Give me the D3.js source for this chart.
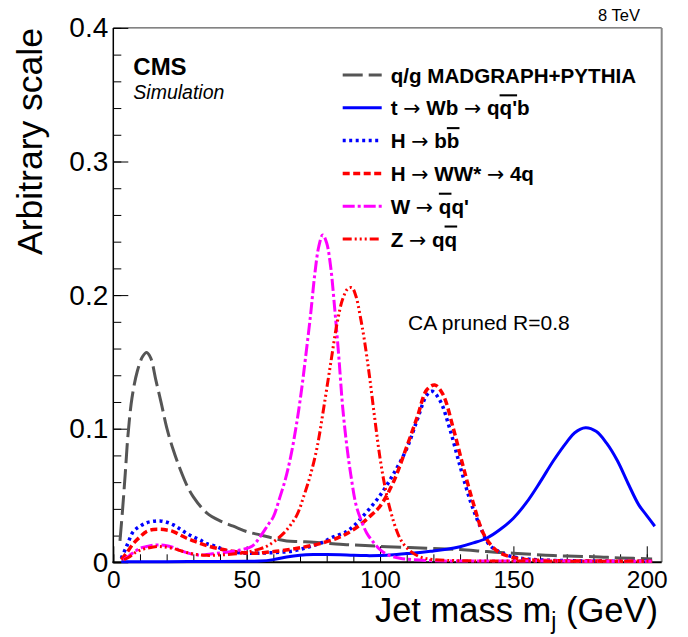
<!DOCTYPE html>
<meta charset="utf-8">
<style>
  body { margin: 0; background: #fff; }
  svg text { font-family: "Liberation Sans", Arial, sans-serif; fill: #000; }
  svg text .arrow { font-family: "DejaVu Sans", sans-serif; font-weight: normal; }
  .ov { text-decoration: overline; }
</style>
<svg width="688" height="637"></svg>
<script src="https://d3js.org/d3.v7.min.js"></script>
<script>
// jet mass (GeV) and normalised distribution
var qgX = [2.5, 3.5, 4.5, 5.5, 7, 9, 11, 12.5, 14, 16, 18, 20, 22.5, 25, 27.5, 30, 35, 40, 45, 50, 55, 60, 65, 70, 77.5, 85, 92.5, 102.5, 117.5, 130, 140, 150, 165, 180, 190, 202];
var qgY = [0.016, 0.04, 0.067, 0.095, 0.123, 0.143, 0.154, 0.157, 0.153, 0.136, 0.119, 0.101, 0.084, 0.070, 0.058, 0.049, 0.037, 0.031, 0.027, 0.023, 0.0205, 0.018, 0.016, 0.0155, 0.0147, 0.0135, 0.0127, 0.0117, 0.0105, 0.0095, 0.008, 0.0068, 0.005, 0.0042, 0.0033, 0.0025];

var topX = [3, 20, 40, 50, 55, 60, 65, 70, 75, 80, 85, 90, 95, 100, 105, 110, 115, 120, 125, 130, 135, 140, 145, 150, 155, 160, 165, 170, 173, 177, 181, 185, 189, 193, 197, 200, 203];
var topY = [0.0005, 0.0005, 0.0006, 0.0007, 0.0009, 0.002, 0.004, 0.0053, 0.0058, 0.0058, 0.0056, 0.0052, 0.005, 0.0051, 0.0056, 0.0065, 0.0073, 0.0085, 0.0098, 0.0117, 0.0145, 0.018, 0.0245, 0.033, 0.045, 0.060, 0.076, 0.090, 0.097, 0.1007, 0.098, 0.089, 0.076, 0.059, 0.043, 0.035, 0.027];

var hbbX = [3, 5, 7.5, 10, 12.5, 15, 17.5, 20, 22.5, 25, 27.5, 30, 32.5, 35, 38.8, 42.5, 47.5, 52.5, 57.5, 62.5, 67.5, 72.5, 77.5, 82.5, 87.5, 90, 92.5, 96, 100, 105, 110, 114, 117.5, 119.5, 122.5, 126, 130, 134, 137.5, 141, 145, 150, 155, 160, 170, 180, 190, 202];
var hbbY = [0.003, 0.012, 0.023, 0.027, 0.0296, 0.0307, 0.031, 0.030, 0.028, 0.025, 0.0217, 0.019, 0.0167, 0.014, 0.0117, 0.0085, 0.0072, 0.0067, 0.007, 0.0075, 0.0085, 0.011, 0.0142, 0.019, 0.023, 0.027, 0.032, 0.040, 0.050, 0.066, 0.085, 0.107, 0.125, 0.128, 0.121, 0.101, 0.072, 0.045, 0.027, 0.013, 0.0075, 0.004, 0.0025, 0.0018, 0.0012, 0.001, 0.0008, 0.0008];

var hwwX = [3, 5, 7.5, 10, 12.5, 15, 17.5, 20, 22.5, 25, 27.5, 30, 32.5, 35, 38.8, 42.5, 47.5, 52.5, 57.5, 62.5, 67.5, 72.5, 77.5, 83.8, 88, 92.5, 96, 100, 105, 110, 114, 117.5, 120.5, 123.5, 127.5, 131, 135, 138.7, 142, 145, 150, 155, 160, 170, 180, 190, 202];
var hwwY = [0.002, 0.007, 0.014, 0.019, 0.023, 0.0245, 0.0247, 0.0242, 0.023, 0.0205, 0.018, 0.016, 0.0142, 0.0125, 0.0105, 0.009, 0.0075, 0.0067, 0.0075, 0.0085, 0.010, 0.0118, 0.014, 0.018, 0.022, 0.028, 0.034, 0.042, 0.060, 0.0865, 0.109, 0.129, 0.1327, 0.126, 0.100, 0.073, 0.044, 0.0217, 0.012, 0.007, 0.0035, 0.002, 0.0015, 0.001, 0.001, 0.0008, 0.0008];

var wX = [3.8, 6, 8, 10, 12.5, 15, 17, 19, 22.5, 25, 27.5, 30, 32.5, 35, 38.8, 42.5, 47.5, 52, 55, 58, 60, 62.5, 64.5, 66.5, 68.5, 70.5, 72, 74, 75.5, 77, 78.5, 80, 81.5, 83, 84.5, 86, 87.5, 89, 91, 93, 95, 97.5, 100, 103, 107.5, 112, 120, 130, 140, 150, 160, 170, 180, 190, 202];
var wY = [0.002, 0.005, 0.008, 0.0105, 0.0118, 0.0128, 0.013, 0.0127, 0.0112, 0.009, 0.0072, 0.006, 0.0055, 0.0058, 0.0067, 0.0075, 0.0092, 0.012, 0.019, 0.028, 0.034, 0.049, 0.062, 0.079, 0.101, 0.128, 0.152, 0.186, 0.215, 0.236, 0.245, 0.239, 0.221, 0.190, 0.155, 0.116, 0.088, 0.066, 0.043, 0.031, 0.022, 0.015, 0.0095, 0.0055, 0.003, 0.002, 0.0012, 0.001, 0.001, 0.001, 0.0009, 0.0009, 0.0008, 0.0008, 0.0008];

var zX = [4, 6, 8, 10, 12.5, 15, 17, 19, 22.5, 25, 27.5, 30, 35, 40, 45, 50, 55, 58, 61, 64, 66.5, 69, 71.5, 74, 76.5, 79, 81.5, 84, 86, 88, 89.5, 91, 92.5, 94, 96, 98, 100, 102, 104, 106, 108, 111, 115, 120, 130, 150, 170, 190, 202];
var zY = [0.002, 0.004, 0.007, 0.009, 0.0105, 0.0115, 0.0118, 0.0115, 0.0103, 0.0088, 0.0073, 0.0062, 0.0052, 0.0055, 0.0062, 0.0075, 0.010, 0.0125, 0.0167, 0.022, 0.028, 0.036, 0.050, 0.066, 0.087, 0.117, 0.149, 0.180, 0.197, 0.205, 0.2055, 0.199, 0.185, 0.168, 0.140, 0.108, 0.078, 0.055, 0.038, 0.025, 0.016, 0.009, 0.004, 0.002, 0.0012, 0.001, 0.0008, 0.0008, 0.0008];

var xTicks = [0, 50, 100, 150, 200];
var yTicks = [0, 0.1, 0.2, 0.3, 0.4];

var series = [
  { xs: qgX,  ys: qgY,  color: "#555555", dash: "20,6",  width: 3,   label: [["q/g MADGRAPH+PYTHIA", "b"]] },
  { xs: topX, ys: topY, color: "#0000ff", dash: null,    width: 3,   label: [["t ", "b"], ["\u2192", "a"], [" Wb ", "b"], ["\u2192", "a"], [" q", "b"], ["q'", "o"], ["b", "b"]] },
  { xs: hbbX, ys: hbbY, color: "#0000ff", dash: "3,3.5", width: 3.5, label: [["H ", "b"], ["\u2192", "a"], [" b", "b"], ["b", "o"]] },
  { xs: hwwX, ys: hwwY, color: "#ff0000", dash: "7,3.5", width: 3.5, label: [["H ", "b"], ["\u2192", "a"], [" WW* ", "b"], ["\u2192", "a"], [" 4q", "b"]] },
  { xs: wX,   ys: wY,   color: "#ff00ff", dash: "12,3,3,3", width: 3, label: [["W ", "b"], ["\u2192", "a"], [" ", "b"], ["q", "o"], ["q'", "b"]] },
  { xs: zX,   ys: zY,   color: "#ff0000", dash: "9,3,2,3,2,3,2,3", width: 3, label: [["Z ", "b"], ["\u2192", "a"], [" q", "b"], ["q", "o"]] }
];

var svg = d3.select("svg");
var x = d3.scaleLinear().domain([0, 205.6]).range([113.3, 661.7]);
var y = d3.scaleLinear().domain([0, 0.4]).range([562.3, 27.9]);

// frame (top / right in grey like the original)
svg.append("line").attr("x1", 113.3).attr("x2", 661.7).attr("y1", 27.9).attr("y2", 27.9)
  .attr("stroke", "#333").attr("stroke-width", 1);
svg.append("line").attr("x1", 661.7).attr("x2", 661.7).attr("y1", 27.9).attr("y2", 562.3)
  .attr("stroke", "#888").attr("stroke-width", 2);

// x axis: minor every 10, major every 50
svg.append("g").attr("transform", "translate(0,562.3)")
  .call(d3.axisBottom(x).tickValues(d3.range(0, 206, 10)).tickSize(-8).tickFormat(""))
  .call(function(g) { g.select(".domain").remove(); });
svg.append("g").attr("transform", "translate(0,562.3)")
  .call(d3.axisBottom(x).tickValues(xTicks).tickSize(-16).tickPadding(8).tickFormat(d3.format("d")))
  .call(function(g) {
    g.select(".domain").remove();
    g.selectAll("text").attr("font-size", 24.5).attr("font-family", null);
  });

// y axis: minor every 0.02
svg.append("g").attr("transform", "translate(113.3,0)")
  .call(d3.axisLeft(y).tickValues(d3.range(0, 0.401, 0.02)).tickSize(-8).tickFormat(""))
  .call(function(g) { g.select(".domain").remove(); });
svg.append("g").attr("transform", "translate(113.3,0)")
  .call(d3.axisLeft(y).tickValues(yTicks).tickSize(-15).tickPadding(5).tickFormat(function(d) { return d === 0 ? "0" : d3.format(".1f")(d); }))
  .call(function(g) {
    g.select(".domain").remove();
    g.selectAll("text").attr("font-size", 28).attr("font-family", null);
  });
svg.selectAll(".tick line").attr("stroke", "#000");

svg.append("line").attr("x1", 113.3).attr("x2", 113.3).attr("y1", 27.9).attr("y2", 563)
  .attr("stroke", "#000").attr("stroke-width", 1.5);
svg.append("line").attr("x1", 112.5).attr("x2", 661.7).attr("y1", 562.3).attr("y2", 562.3)
  .attr("stroke", "#000").attr("stroke-width", 2);

// curves
var line = d3.line().curve(d3.curveCatmullRom.alpha(0.5));
series.forEach(function(s) {
  svg.append("path")
    .datum(s.xs.map(function(v, i) { return [x(v), y(s.ys[i])]; }))
    .attr("d", line)
    .attr("fill", "none")
    .attr("stroke", s.color)
    .attr("stroke-width", s.width)
    .attr("stroke-dasharray", s.dash);
});

// legend
series.forEach(function(s, i) {
  var cy = 75 + i * 32.8;
  svg.append("line").attr("x1", 342.7).attr("x2", 381.7).attr("y1", cy).attr("y2", cy)
    .attr("stroke", s.color).attr("stroke-width", s.width).attr("stroke-dasharray", s.dash);
  var t = svg.append("text").attr("x", 390.7).attr("y", cy + 7.5).attr("font-size", 20.6);
  s.label.forEach(function(p) {
    var ts = t.append("tspan").text(p[0]);
    if (p[1] === "a") ts.attr("class", "arrow");
    else ts.attr("font-weight", "bold");
    if (p[1] === "o") ts.attr("class", "ov");
  });
});

// annotations
svg.append("text").attr("x", 133.3).attr("y", 74.5).attr("font-size", 24).attr("font-weight", "bold").text("CMS");
svg.append("text").attr("x", 133.3).attr("y", 98.5).attr("font-size", 19.5).attr("font-style", "italic").text("Simulation");
svg.append("text").attr("x", 640).attr("y", 21).attr("font-size", 16.5).attr("text-anchor", "end").text("8 TeV");
svg.append("text").attr("x", 408).attr("y", 329.5).attr("font-size", 21).text("CA pruned R=0.8");

// axis titles
var xt = svg.append("text").attr("x", 658).attr("y", 621.7).attr("font-size", 34.5).attr("text-anchor", "end");
xt.append("tspan").text("Jet mass m");
xt.append("tspan").attr("font-size", 23).attr("dy", 7).text("j");
xt.append("tspan").attr("dy", -7).text(" (GeV)");

svg.append("text").attr("transform", "translate(42,28) rotate(-90)")
  .attr("font-size", 35.5).attr("text-anchor", "end").text("Arbitrary scale");
</script>
